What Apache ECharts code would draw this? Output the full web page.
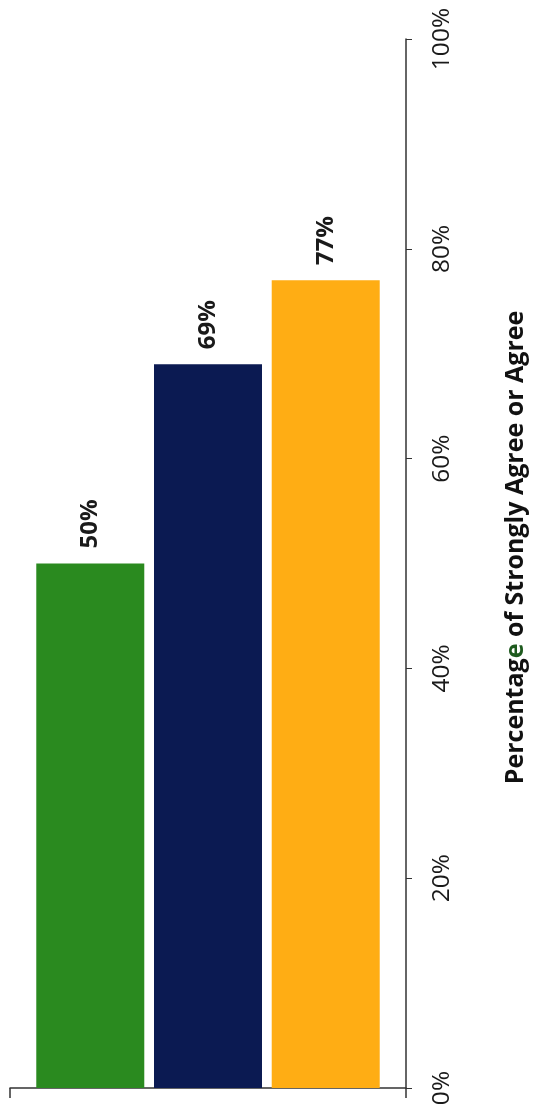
<!DOCTYPE html>
<html>
<head>
<meta charset="utf-8">
<script src="https://cdn.jsdelivr.net/npm/echarts@6/dist/echarts.min.js"></script>
<style>
html,body{margin:0;padding:0;background:#fff;}
#chart{width:538px;height:1118px;}
</style>
</head>
<body>
<div id="chart"></div>
<script>
const categories = [''];
const seriesNames = ['Group A', 'Group B', 'Group C'];
const seriesValues = [[50], [69], [77]];
const seriesColors = ['#2a8a1f', '#0b1a52', '#ffad14'];
const tickValues = [0, 20, 40, 60, 80, 100];
const axisName = 'Percentage of Strongly Agree or Agree';

const chart = echarts.init(document.getElementById('chart'));
const font = '"Open Sans", sans-serif';

const series = seriesNames.map((name, i) => ({
  name: name,
  type: 'bar',
  data: seriesValues[i],
  barWidth: 108,
  barGap: '9%',
  itemStyle: { color: seriesColors[i] },
  label: {
    show: true,
    position: 'top',
    rotate: 90,
    align: 'left',
    verticalAlign: 'middle',
    distance: 15,
    formatter: '{c}%',
    fontFamily: font,
    fontWeight: 'bold',
    fontSize: 24,
    color: '#1a1a1a'
  }
}));

chart.setOption({
  animation: false,
  backgroundColor: '#fff',
  grid: { left: 10, right: 132, top: 39, bottom: 30 },
  xAxis: {
    type: 'category',
    data: categories,
    axisLine: { lineStyle: { color: '#333', width: 1.5 } },
    axisTick: { show: true, length: 10, interval: 0, lineStyle: { color: '#333', width: 1.5 } },
    axisLabel: { show: false },
    splitLine: { show: false }
  },
  yAxis: {
    type: 'value',
    position: 'right',
    min: tickValues[0],
    max: tickValues[tickValues.length - 1],
    interval: 20,
    axisLine: { show: true, lineStyle: { color: '#333', width: 1.5 } },
    axisTick: { show: true, length: 6, lineStyle: { color: '#333' } },
    splitLine: { show: false },
    axisLabel: {
      formatter: '{value}%',
      rotate: 90,
      align: 'center',
      verticalAlign: 'top',
      margin: 24,
      fontFamily: font,
      fontSize: 24.5,
      color: '#1a1a1a'
    },
    name: 'Percentag{g|e} of Strongly Agree or Agree',
    nameLocation: 'middle',
    nameRotate: 90,
    nameGap: 97,
    nameTextStyle: {
      fontFamily: font,
      fontWeight: 'bold',
      fontSize: 25,
      color: '#111',
      padding: [0, 0, 0, 32],
      rich: {
        g: { fontFamily: font, fontWeight: 'bold', fontSize: 25, color: '#1e5a1e' }
      }
    }
  },
  series: series
});
</script>
</body>
</html>
